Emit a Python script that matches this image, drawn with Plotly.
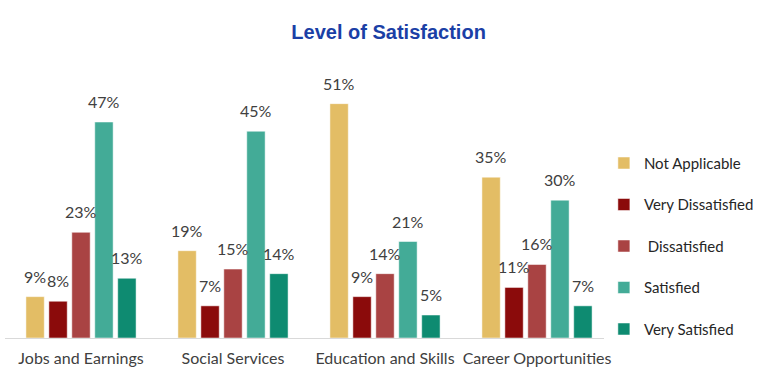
import plotly.graph_objects as go

categories = ["Jobs and Earnings", "Social Services", "Education and Skills", "Career Opportunities"]
series_names = ["Not Applicable", "Very Dissatisfied", " Dissatisfied", "Satisfied", "Very Satisfied"]
not_applicable = [9, 19, 51, 35]
very_dissatisfied = [8, 7, 9, 11]
dissatisfied = [23, 15, 14, 16]
satisfied = [47, 45, 21, 30]
very_satisfied = [13, 14, 5, 7]
colors = ["#E3BD65", "#8B0B0B", "#A94343", "#43AB97", "#0E8B71"]

series_values = [not_applicable, very_dissatisfied, dissatisfied, satisfied, very_satisfied]

W, H = 762, 379
ML, MR, MT, MB = 5, 149, 60, 41
BARGAP = 0.245
n_series = len(series_names)
cat_px = (W - ML - MR) / len(categories)
slot_px = cat_px * (1 - BARGAP) / n_series

FONT = "Lato, Open Sans, sans-serif"

fig = go.Figure()
annotations = []
for i, (name, vals, col) in enumerate(zip(series_names, series_values, colors)):
    fig.add_trace(go.Bar(
        x=categories, y=vals, name=name,
        marker=dict(color=col, line=dict(color="white", width=0.5)),
        legendgroup=f"g{i}",
    ))
    shift = (i - (n_series - 1) / 2) * slot_px
    for c, v in zip(categories, vals):
        annotations.append(dict(
            x=c, y=v, xref="x", yref="y", text=f"{v}%", showarrow=False,
            xshift=shift, yshift=9, yanchor="bottom", xanchor="center",
            font=dict(family=FONT, size=16, color="#404040"),
        ))

fig.update_layout(
    width=W, height=H,
    margin=dict(l=ML, r=MR, t=MT, b=MB, autoexpand=False),
    paper_bgcolor="white", plot_bgcolor="white",
    barmode="group", bargap=BARGAP, bargroupgap=0.2,
    title=dict(text="<b>Level of Satisfaction</b>", x=0.51, xanchor="center", y=0.915, yanchor="middle",
               font=dict(family="Liberation Sans, Arial, sans-serif", size=20, color="#1B3FA6")),
    xaxis=dict(showline=True, linecolor="#D9D9D9", linewidth=1, ticks="",
               tickfont=dict(family=FONT, size=16, color="#404040"),
               ticklabelstandoff=6,
               showgrid=False, fixedrange=True),
    yaxis=dict(range=[0, 60.5], visible=False, showgrid=False, fixedrange=True),
    legend=dict(x=0.985, xanchor="left", y=0.33, yanchor="middle", tracegroupgap=19,
                font=dict(family=FONT, size=15, color="#262626"),
                itemwidth=30, traceorder="grouped"),
    annotations=annotations,
    showlegend=True,
)

fig.write_html("out.html")
